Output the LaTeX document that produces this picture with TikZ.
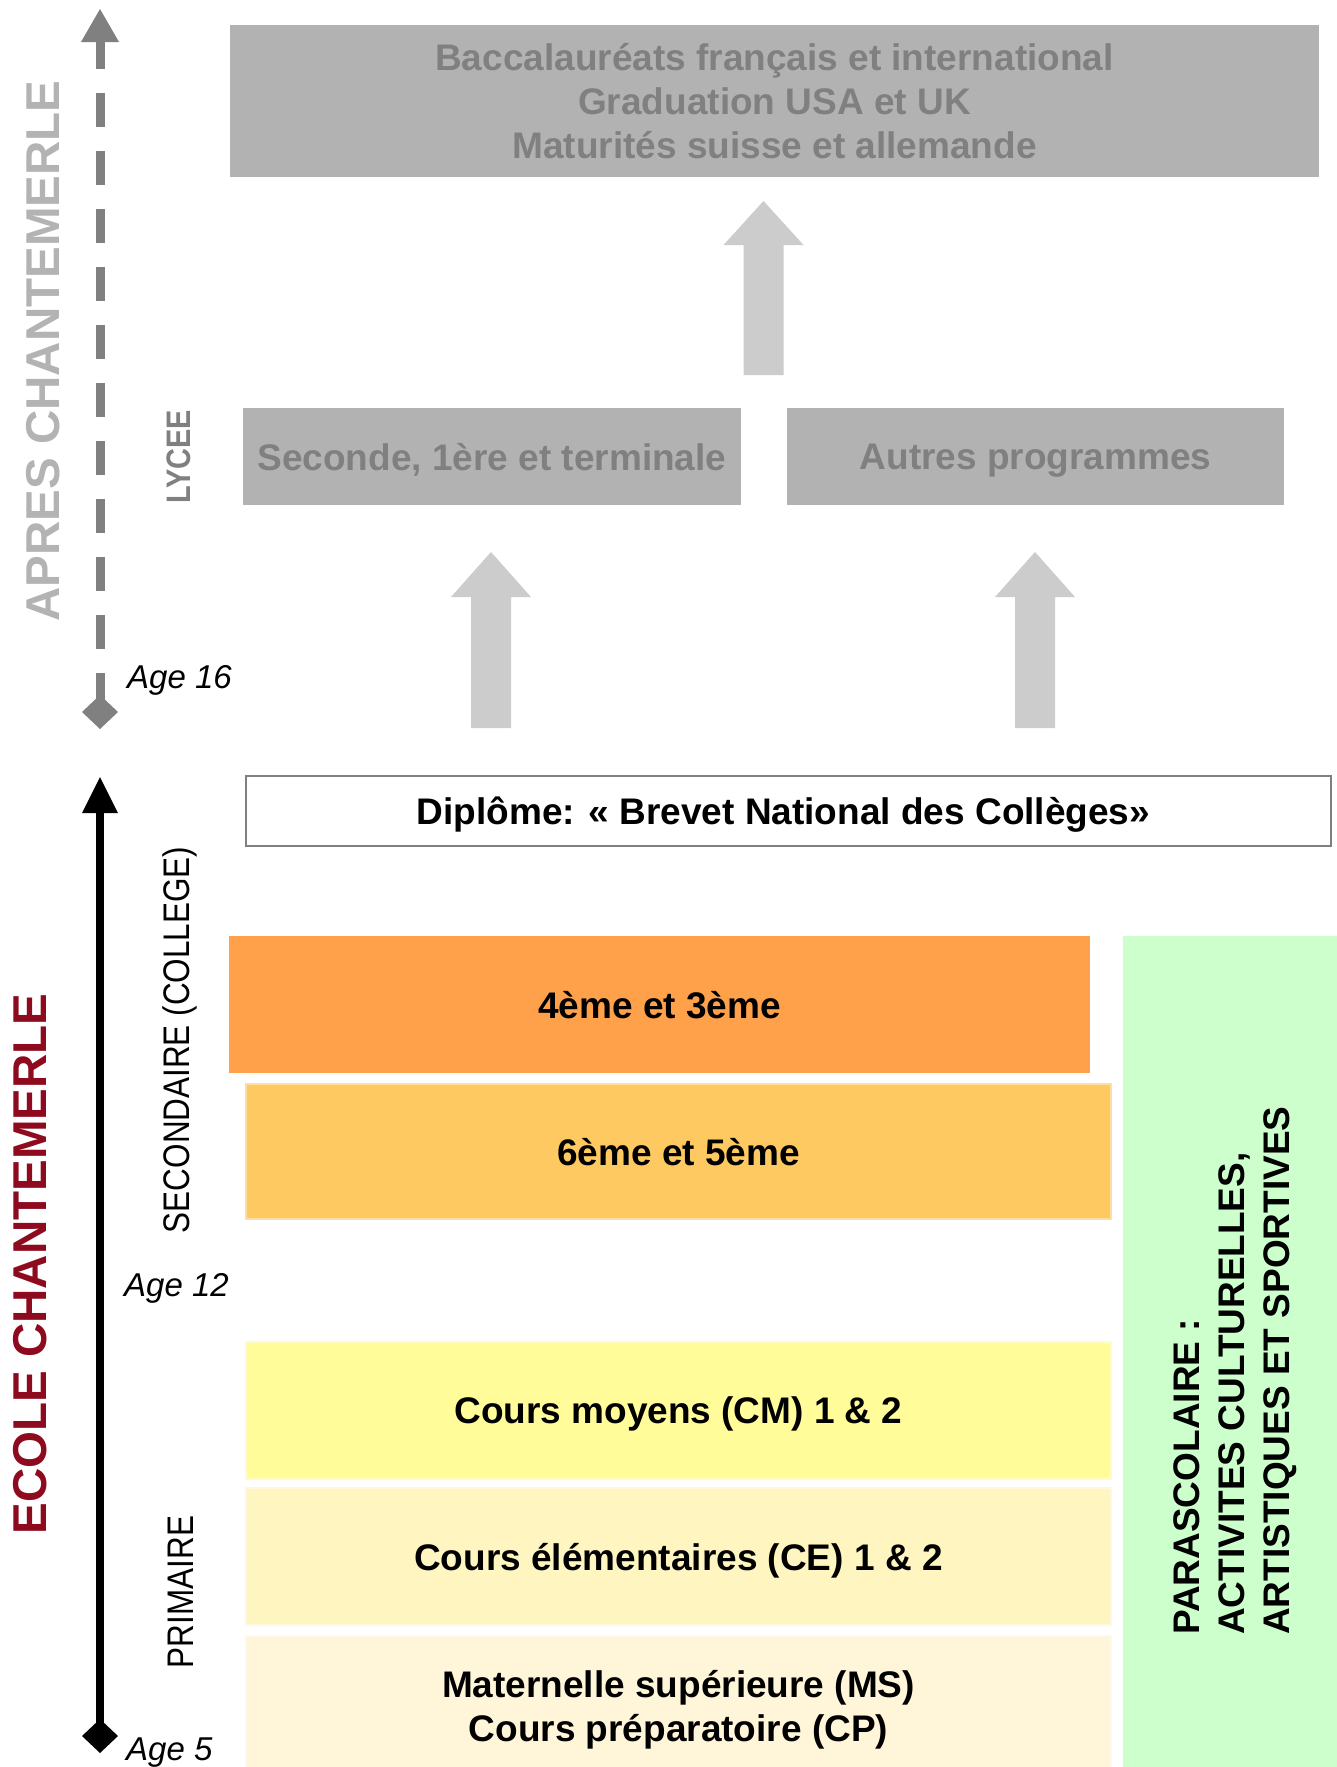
\documentclass[tikz,border=0pt]{standalone}
\usepackage{fontspec}
\setmainfont{Liberation Sans}
\newfontfamily\narrowfont[FakeStretch=0.85]{Liberation Sans}
\definecolor{boxgray}{HTML}{B2B2B2}
\definecolor{txtgray}{HTML}{808080}
\definecolor{arrowgray}{HTML}{CCCCCC}
\definecolor{lightgraytxt}{HTML}{B3B3B3}
\definecolor{darkred}{HTML}{8E0B1F}
\definecolor{orangeA}{HTML}{FFA04A}
\definecolor{orangeB}{HTML}{FFC962}
\definecolor{yellowA}{HTML}{FFFC99}
\definecolor{yellowB}{HTML}{FFF5C0}
\definecolor{yellowC}{HTML}{FFF5D9}
\definecolor{greenbox}{HTML}{CCFFCC}
\newcommand\chArrow[4]{\fill[bigarrow] (#1-20,#4) -- (#1-20,#3) -- (#1-40,#3) -- (#1,#2) -- (#1+40,#3) -- (#1+20,#3) -- (#1+20,#4) -- cycle;}
\begin{document}
\begin{tikzpicture}[x=1pt,y=-1pt,
  box/.style={anchor=north west, inner sep=0pt, outer sep=0pt, align=center, text depth=0pt,
    font=\bfseries\fontsize{37}{44}\selectfont},
  graybox/.style={box, fill=boxgray, text=txtgray},
  levelbox/.style={box, text=black},
  bigarrow/.style={fill=arrowgray},
  sidelabel/.style={rotate=90, inner sep=0pt, font=\narrowfont\fontsize{37}{44}\selectfont},
  agelabel/.style={anchor=west, inner sep=0pt, font=\itshape\fontsize{33}{40}\selectfont},
  bigtitle/.style={rotate=90, inner sep=0pt, font=\bfseries\fontsize{47.5}{50}\selectfont}]
\useasboundingbox[fill=white] (0,0) rectangle (1337,1767);

% upper (after Chantemerle) boxes
\node[graybox, minimum width=1089pt, minimum height=152pt] (bac) at (230,25)
  {Baccalauréats français et international\\Graduation USA et UK\\Maturités suisse et allemande};
\node[graybox, minimum width=498pt, minimum height=97pt] (seconde) at (243,408)
  {Seconde, 1ère et terminale};
\node[graybox, minimum width=497pt, minimum height=97pt] (autres) at (787,408)
  {Autres programmes};

% block arrows
\chArrow{763.5}{201}{245}{375}
\chArrow{491}{552}{597}{728}
\chArrow{1035}{552}{597}{728}

% diploma
\node[levelbox, draw=txtgray, line width=2.5pt, minimum width=1085pt, minimum height=70pt] (brevet) at (246,776)
  {Diplôme: « Brevet National des Collèges»\hspace*{10pt}};

% level boxes
\node[levelbox, fill=orangeA, minimum width=861pt, minimum height=137pt] (q) at (229,936) {4ème et 3ème};
\node[levelbox, fill=orangeB, draw=orangeB!60!white, line width=1.5pt, minimum width=865pt, minimum height=135pt] (s) at (246,1084) {6ème et 5ème};
\node[levelbox, fill=yellowA, draw=yellowA!60!white, line width=1.5pt, minimum width=865pt, minimum height=137pt] (cm) at (246,1342) {Cours moyens (CM) 1 \& 2};
\node[levelbox, fill=yellowB, draw=yellowB!60!white, line width=1.5pt, minimum width=865pt, minimum height=137pt] (ce) at (246,1488) {Cours élémentaires (CE) 1 \& 2};
\node[levelbox, fill=yellowC, draw=yellowC!60!white, line width=1.5pt, minimum width=865pt, minimum height=139pt] (ms) at (246,1636) {Maternelle supérieure (MS)\\Cours préparatoire (CP)};

% green parascolaire
\fill[greenbox] (1123,936) rectangle (1340,1770);
\node[rotate=90, anchor=west, inner sep=0pt, align=left, font=\bfseries\fontsize{37}{45}\selectfont] (para) at (1235,1635)
  {PARASCOLAIRE :\\ACTIVITES CULTURELLES,\\ARTISTIQUES ET SPORTIVES};

% dashed grey axis
\coordinate (gtop) at (100,9);
\coordinate (gbot) at (100,712);
\draw[txtgray, line width=9pt, dash pattern=on 34pt off 24pt, dash phase=7pt] (100,42) -- (100,700);
\fill[txtgray] (gtop) -- (119,42) -- (81,42) -- cycle;
\fill[txtgray] (100,695) -- (118,712) -- (100,729) -- (82,712) -- cycle;

% black axis
\coordinate (btop) at (100,777);
\coordinate (bbot) at (100,1736);
\draw[black, line width=8pt] (100,810) -- (100,1728);
\fill[black] (btop) -- (118,813) -- (82,813) -- cycle;
\fill[black] (100,1719) -- (118,1736) -- (100,1753) -- (82,1736) -- cycle;

% titles
\node[bigtitle, text=lightgraytxt] (apres) at (43.5,351) {APRES CHANTEMERLE};
\node[bigtitle, text=darkred] (ecole) at (30.5,1264) {ECOLE CHANTEMERLE};

% side labels
\node[sidelabel, text=txtgray, font=\narrowfont\bfseries\fontsize{34}{40}\selectfont] (lycee) at (179,457) {LYCEE};
\node[sidelabel] (secondaire) at (180,1040) {SECONDAIRE (COLLEGE)};
\node[sidelabel] (primaire) at (181,1592) {PRIMAIRE};

% ages
\node[agelabel] (a16) at (127,680) {Age 16};
\node[agelabel] (a12) at (124,1288) {Age 12};
\node[agelabel] (a5) at (126,1753) {Age 5};
\end{tikzpicture}
\end{document}
